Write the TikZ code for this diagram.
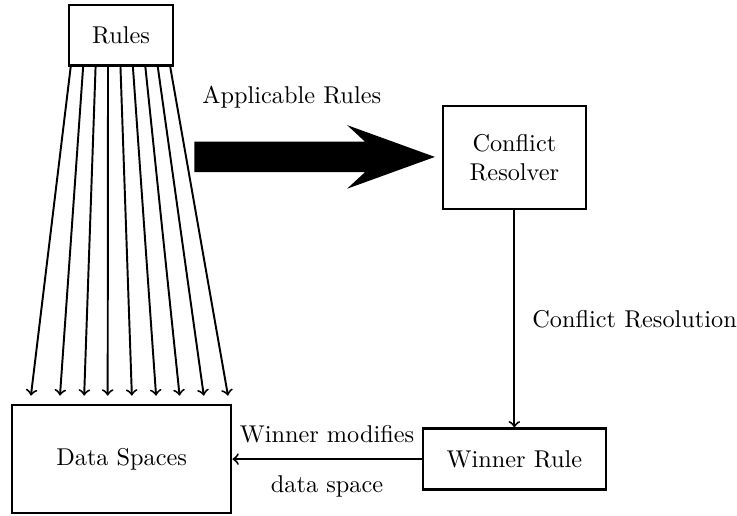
\documentclass[tikz,border=0pt]{standalone}
\usetikzlibrary{calc}

\begin{document}
\begin{tikzpicture}[every node/.style={font=\normalsize},
    box/.style={draw,line width=1pt,inner sep=0pt,align=center}]
    \useasboundingbox (0,0) rectangle (10.66,7.46);
    \node[box,minimum width=1.5cm,minimum height=.88cm] (rules) at (1.75,6.95) {Rules};
    \node[box,minimum width=3.17cm,minimum height=1.56cm] (data) at (1.76,.82) {Data Spaces};
    \node[box,minimum width=2.07cm,minimum height=1.49cm] (resolver) at (7.44,5.18) {Conflict\\Resolver};
    \node[box,minimum width=2.65cm,minimum height=.88cm] (winner) at (7.44,.82) {Winner Rule};
    % rules fan out onto the data spaces
    \foreach \a/\b in {.04/.29,.22/.71,.40/1.06,.58/1.40,.76/1.75,.94/2.10,1.12/2.44,1.30/2.79,1.48/3.14}
        \draw[->,thick] ([xshift=\a cm]rules.south west) -- ([xshift=\b cm,yshift=.12cm]data.north west);
    \fill (2.81,5.41) -- (5.28,5.41) -- (5.02,5.65) -- (6.29,5.19)
        -- (5.02,4.73) -- (5.28,4.97) -- (2.81,4.97) -- cycle;
    \node (applicable) at (4.22,6.06) {Applicable Rules};
    \draw[->,thick] (resolver) -- (winner)
        node[midway,right=3.7pt] {Conflict Resolution};
    \draw[->,thick] (winner) -- (data)
        node[midway,above=3pt] {Winner modifies}
        node[midway,below=3pt] {data space};
\end{tikzpicture}
\end{document}
